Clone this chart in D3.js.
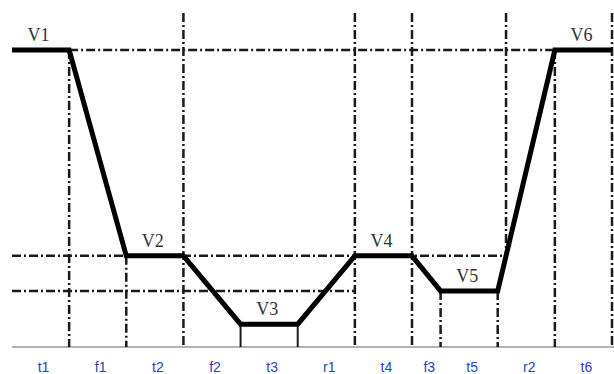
<!DOCTYPE html>
<html>
<head>
<meta charset="utf-8">
<script src="https://cdn.jsdelivr.net/npm/d3@7"></script>
<style>
  html, body { margin: 0; padding: 0; background: #fff; }
  svg { display: block; }
</style>
</head>
<body>
<div id="chart"></div>
<script>
// Segment names along the time axis, and their durations (f3 is half as long)
const segments = ['t1', 'f1', 't2', 'f2', 't3', 'r1', 't4', 'f3', 't5', 'r2', 't6']
const durations = [2, 2, 2, 2, 2, 2, 2, 1, 2, 2, 2]

// Hold levels (one per t segment)
const levelNames = ['V1', 'V2', 'V3', 'V4', 'V5', 'V6']
const levelValues = [10, 3.07, 0.77, 3.07, 1.89, 10]

const width = 614
const height = 374
const margin = { left: 12, right: 2, top: 13, bottom: 27 }

// Build boundaries from the durations
let bounds = [0]
durations.forEach(d => bounds.push(bounds[bounds.length - 1] + d))
let total = bounds[bounds.length - 1]

let x = d3.scaleLinear().domain([0, total]).range([margin.left, width - margin.right])
let y = d3.scaleLinear().domain([0, 11.25]).range([height - margin.bottom, margin.top])

// Waveform points: hold segments keep a level, transitions join them
let points = []
let li = 0
segments.forEach((s, i) => {
  if (s[0] === 't') {
    points.push([bounds[i], levelValues[li]])
    points.push([bounds[i + 1], levelValues[li]])
    li++
  }
})

// Time where r2 ramp crosses the V4 level
let r2 = segments.indexOf('r2')
let crossT = bounds[r2] + (levelValues[3] - levelValues[4]) / (levelValues[5] - levelValues[4]) * durations[r2]

let svg = d3.select('#chart').append('svg')
  .attr('width', width)
  .attr('height', height)

let dashDot = '9,3,2,3'
let yTop = y.domain()[1]

// Reference lines: [t1, v1, t2, v2, style]
let refLines = [
  // horizontals
  [bounds[1], levelValues[0], bounds[10], levelValues[0], 'dash'],
  [0, levelValues[1], crossT, levelValues[1], 'dash'],
  [0, levelValues[4], bounds[6], levelValues[4], 'dash'],
  // verticals
  [bounds[1], levelValues[0], bounds[1], 0, 'dash'],
  [bounds[2], levelValues[1], bounds[2], 0, 'dash'],
  [bounds[3], yTop, bounds[3], 0, 'dash'],
  [bounds[4], levelValues[2], bounds[4], 0, 'solid'],
  [bounds[5], levelValues[2], bounds[5], 0, 'solid'],
  [bounds[6], yTop, bounds[6], 0, 'dash'],
  [bounds[7], yTop, bounds[7], 0, 'dash'],
  [bounds[8], levelValues[4], bounds[8], 0, 'dash'],
  [bounds[9], levelValues[4], bounds[9], 0, 'dash'],
  [crossT, yTop, crossT, levelValues[1], 'dash'],
  [bounds[10], levelValues[5], bounds[10], 0, 'dash'],
  [bounds[11], yTop, bounds[11], 0, 'dash']
]

// Time axis line
svg.append('line')
  .attr('x1', x(0))
  .attr('x2', width)
  .attr('y1', y(0))
  .attr('y2', y(0))
  .style('stroke', '#9a9a9a')
  .style('stroke-width', 1.5)

svg.selectAll('.ref')
  .data(refLines)
  .enter()
  .append('line')
  .attr('class', 'ref')
  .attr('x1', d => x(d[0]))
  .attr('y1', d => y(d[1]))
  .attr('x2', d => x(d[2]))
  .attr('y2', d => y(d[3]))
  .style('stroke', '#1a1a1a')
  .style('stroke-width', d => d[4] === 'solid' ? 2 : 2.5)
  .style('stroke-dasharray', d => d[4] === 'solid' ? null : dashDot)

// The waveform
let line = d3.line()
  .x(d => x(d[0]))
  .y(d => y(d[1]))

svg.append('path')
  .datum(points)
  .attr('d', line)
  .style('fill', 'none')
  .style('stroke', '#000')
  .style('stroke-width', 5)
  .style('stroke-linejoin', 'miter')

// Level labels, centred over each hold
let holds = segments.map((s, i) => i).filter(i => segments[i][0] === 't')
svg.selectAll('.vlabel')
  .data(holds)
  .enter()
  .append('text')
  .attr('class', 'vlabel')
  .attr('x', (d, i) => x((bounds[d] + bounds[d + 1]) / 2) - 2)
  .attr('y', (d, i) => y(levelValues[i]) - 9)
  .attr('text-anchor', 'middle')
  .style('font-family', '"Liberation Serif", "DejaVu Serif", serif')
  .style('font-size', '18px')
  .style('fill', '#333')
  .text((d, i) => levelNames[i])

// Segment labels under the axis
svg.selectAll('.tlabel')
  .data(segments)
  .enter()
  .append('text')
  .attr('class', 'tlabel')
  .attr('x', (d, i) => x((bounds[i] + bounds[i + 1]) / 2) + 3)
  .attr('y', height - 2)
  .attr('text-anchor', 'middle')
  .style('font-family', '"Liberation Sans", Arial, sans-serif')
  .style('font-size', '14px')
  .style('fill', '#2a3fd0')
  .text(d => d)
</script>
</body>
</html>
